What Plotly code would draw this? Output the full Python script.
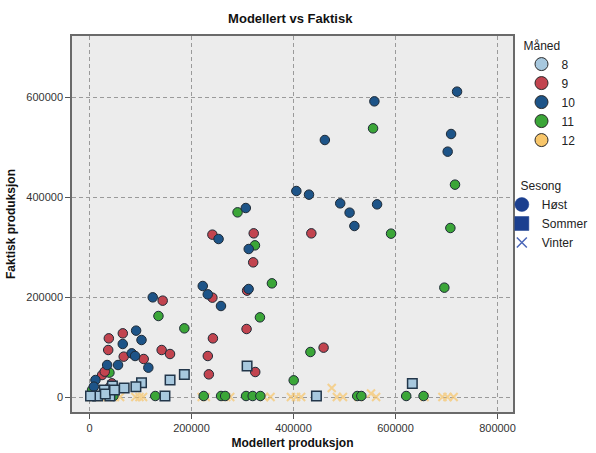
import plotly.graph_objects as go

# Modellert (x) vs faktisk (y) produksjon, gruppert på måned
m8_x = [633000, 309000, 186000, 158000, 445000, 148000, 102000, 91000, 68000, 45000,
        29000, 16000, 2000, 40000, 31000, 49000]
m8_y = [27000, 62000, 45000, 34000, 2000, 2000, 28700, 20700, 18000, 22000,
        14000, 2000, 2000, 2000, 6000, 14000]

m9_x = [241000, 322000, 321000, 435000, 241000, 309000, 308000, 242000, 232000, 234000,
        325000, 459000, 143500, 65300, 37900, 36700, 67100, 106300, 141500, 157900,
        24700, 29900, 44000, 40000]
m9_y = [324700, 327300, 269300, 327300, 198700, 212700, 136000, 117300, 82000, 45300,
        50000, 98700, 192700, 127300, 117300, 94000, 80700, 76000, 94000, 86000,
        44000, 50700, 27300, 20000]

m10_x = [720700, 558600, 709000, 702300, 461500, 563900, 405600, 430400, 491600, 510000,
         519400, 306500, 253100, 312200, 222100, 231900, 257800, 312000, 124000, 91400,
         102000, 65200, 82800, 89400, 115400, 34600, 56000, 11700, 8500]
m10_y = [610700, 591300, 526000, 490700, 514000, 385300, 412000, 404700, 387300, 368700,
         342000, 378000, 316000, 296000, 222000, 205300, 182000, 216000, 199300, 132700,
         114000, 106000, 87300, 82000, 58700, 64000, 64000, 34000, 20700]

m11_x = [556000, 716700, 591300, 707600, 695800, 290300, 324400, 357700, 186000, 334200,
         433200, 400400, 135200, 39100, 5000, 47000, 129000, 224000, 258000, 266000,
         307000, 320000, 335000, 525000, 533000, 621000, 655000]
m11_y = [537300, 424700, 326700, 338000, 218700, 369300, 303300, 227300, 137300, 159300,
         90000, 33300, 162000, 48700, 14000, 2000, 2000, 2000, 2000, 2000,
         2000, 2000, 2000, 2000, 2000, 2000, 2000]

m12_x = [2000, 8000, 15000, 25000, 35000, 50000, 60000, 90000, 98000, 105000,
         220000, 228000, 268000, 276000, 342000, 355000, 395000, 405000, 415000, 475000,
         485000, 497000, 528000, 552000, 562000, 657000, 692000, 702000, 714000]
m12_y = [0, 0, 0, 0, 0, 0, 0, 0, 0, 0,
         0, 0, 0, 0, 0, 0, 0, 0, 0, 18000,
         0, 0, 0, 7000, 0, 0, 0, 0, 0]

months = ["8", "9", "10", "11", "12"]
month_colors = ["#a7c8de", "#c2444f", "#1d5488", "#3ba638", "#f8c66a"]
seasons = ["Høst", "Sommer", "Vinter"]

x_ticks = [0, 200000, 400000, 600000, 800000]
y_ticks = [0, 200000, 400000, 600000]

fig = go.Figure()

outline = dict(color="#1e2a36", width=1)

# Måned 12 (vinter): tynne kryss
fig.add_trace(go.Scatter(
    x=m12_x, y=m12_y, mode="markers", showlegend=False, opacity=0.7,
    marker=dict(symbol="x-thin", size=8, color=month_colors[4],
                line=dict(color=month_colors[4], width=2))))

# Måned 11, 9, 10 (høst): sirkler
for xs, ys, col in [(m11_x, m11_y, month_colors[3]),
                    (m9_x, m9_y, month_colors[1]),
                    (m10_x, m10_y, month_colors[2])]:
    fig.add_trace(go.Scatter(
        x=xs, y=ys, mode="markers", showlegend=False,
        marker=dict(symbol="circle", size=9.5, color=col, line=outline)))

# Måned 8 (sommer): kvadrater
fig.add_trace(go.Scatter(
    x=m8_x, y=m8_y, mode="markers", showlegend=False,
    marker=dict(symbol="square", size=9.5, color=month_colors[0],
                line=dict(color="#22364a", width=1.5))))

# Tegnforklaring: måned (farge)
for name, col in zip(months, month_colors):
    fig.add_trace(go.Scatter(
        x=[None], y=[None], mode="markers", name=name, legend="legend",
        marker=dict(symbol="circle", size=13, color=col,
                    line=dict(color="#2a2a2a", width=1))))

# Tegnforklaring: sesong (form)
season_symbols = ["circle", "square", "x-thin"]
season_sizes = [14, 14, 10]
for name, sym, sz in zip(seasons, season_symbols, season_sizes):
    fig.add_trace(go.Scatter(
        x=[None], y=[None], mode="markers", name=name, legend="legend2",
        marker=dict(symbol=sym, size=sz, color="#1b3f8f",
                    line=dict(color="#4a66b8" if sym == "x-thin" else "#1b3f8f",
                              width=1.5 if sym == "x-thin" else 0.5))))

axis_common = dict(
    showline=True, mirror=True, linecolor="#6a6a6a", linewidth=1.5,
    ticks="outside", ticklen=5, tickcolor="#555555",
    showgrid=True, gridcolor="#9a9a9a", griddash="4px,3px", gridwidth=1,
    zeroline=False, tickfont=dict(family="Liberation Sans, Arial", size=11, color="#333333"),
)

fig.update_xaxes(
    range=[-34300, 830400], tickvals=x_ticks, ticktext=[str(v) for v in x_ticks],
    title=dict(text="<b>Modellert produksjon</b>", standoff=6,
               font=dict(family="Liberation Sans, Arial", size=12, color="#111111")),
    **axis_common)
fig.update_yaxes(
    range=[-30000, 722000], tickvals=y_ticks, ticktext=[str(v) for v in y_ticks],
    title=dict(text="<b>Faktisk produksjon</b>", standoff=8,
               font=dict(family="Liberation Sans, Arial", size=12, color="#111111")),
    **axis_common)

legend_font = dict(family="Liberation Sans, Arial", size=12, color="#222222")
fig.update_layout(
    width=596, height=453,
    margin=dict(l=72, r=83, t=36, b=41, autoexpand=False),
    paper_bgcolor="white", plot_bgcolor="#ececec",
    title=dict(text="<b>Modellert vs Faktisk</b>", x=0.487, xanchor="center",
               y=0.96, yanchor="middle",
               font=dict(family="Liberation Sans, Arial", size=13, color="#111111")),
    legend=dict(title=dict(text="Måned", font=legend_font), font=legend_font,
                xref="container", x=0.875, xanchor="left",
                yref="container", y=0.925, yanchor="top",
                bgcolor="rgba(0,0,0,0)", itemwidth=30),
    legend2=dict(title=dict(text="\u00a0\u00a0\u00a0\u00a0\u00a0Sesong", font=legend_font),
                 font=legend_font,
                 xref="container", x=0.842, xanchor="left",
                 yref="container", y=0.615, yanchor="top",
                 bgcolor="rgba(0,0,0,0)", itemwidth=30),
)

fig.write_html("out.html")
